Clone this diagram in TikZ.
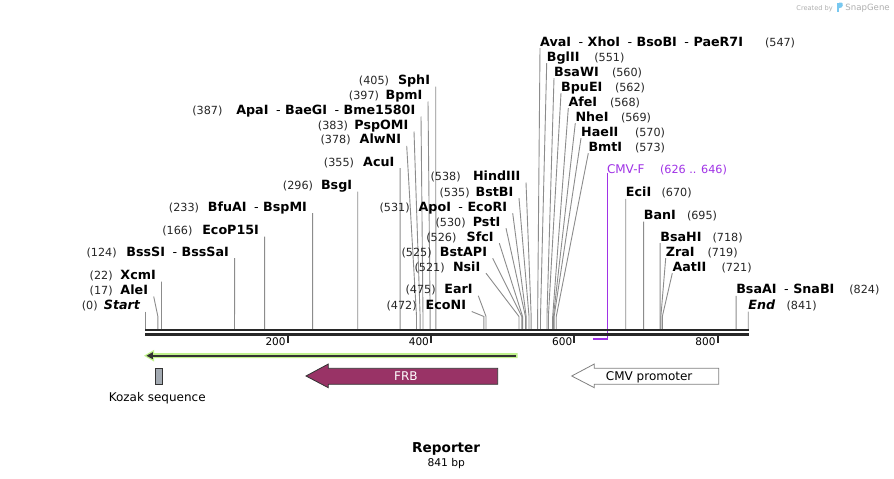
\documentclass[tikz,border=0pt]{standalone}
\usepackage{fontspec}
\setmainfont{DejaVu Sans}
\usetikzlibrary{arrows.meta}
\definecolor{connc}{RGB}{140,140,140}
\definecolor{rulerc}{RGB}{40,40,40}
\definecolor{frbc}{RGB}{153,51,102}
\definecolor{cmvf}{RGB}{160,50,230}
\definecolor{lgreen}{RGB}{192,242,140}
\definecolor{kozakc}{RGB}{163,170,178}
\definecolor{sgblue}{RGB}{120,200,240}
\definecolor{sggray}{RGB}{175,175,175}
\tikzset{
  enz/.style={inner sep=0pt, font=\fontsize{12.7}{14}\selectfont\bfseries},
  num/.style={inner sep=0pt, text=black!85, font=\fontsize{11.2}{13}\selectfont},
  connline/.style={draw=connc, line width=0.9pt},
  ticklab/.style={inner sep=0pt, font=\fontsize{10.5}{12}\selectfont},
  featlab/.style={inner sep=0pt, font=\fontsize{12}{14}\selectfont},
  rulerline/.style={draw=rulerc, line width=2.7pt},
  tickmark/.style={draw=rulerc, line width=1.8pt},
  featout/.style={draw=black!80, line width=0.8pt},
}
\newcommand\enzsep{\hspace{7.5pt}{\mdseries -}\hspace{4.5pt}}
% left label: id, name, number, number right x, start x, centre y, position
\newcommand\siteL[7]{%
  \node[enz, anchor=base east] (#1) at ({#5-5.5},{#6+4.6}) {#2};
  \node[num, anchor=base east] (#1n) at ({#4+0.9},{#6+4.5}) {(#3)};
  \coordinate (#1s) at ({145.7+0.7165*#7},316.5);
  \coordinate (#1r) at ({145.7+0.7165*#7},329);
  \draw[connline] ([xshift=5.5pt,yshift=-1.9pt]#1.base east) -- (#1s) -- (#1r);
}
% right label: id, name, number, number left x, start x, centre y, position
\newcommand\siteR[7]{%
  \node[enz, anchor=base west] (#1) at ({#5},{#6+4.6}) {#2};
  \node[num, anchor=base west] (#1n) at ({#4-0.9},{#6+4.5}) {(#3)};
  \coordinate (#1s) at ({145.7+0.7165*#7},316.5);
  \coordinate (#1r) at ({145.7+0.7165*#7},329);
  \draw[connline] ([yshift=-1.9pt]#1.base west) -- (#1s) -- (#1r);
}
\begin{document}
\begin{tikzpicture}[x=1pt,y=-1pt]
\useasboundingbox (0,0) rectangle (894,479);
\fill[white] (0,0) rectangle (894,479);

% SnapGene credit
\node[inner sep=0pt, anchor=base west, text=sggray, font=\fontsize{6.6}{8}\selectfont] (cred) at (796.2,10.3) {Created by};
\fill[sgblue] (836.8,2.5) rectangle (839.2,12.2);
\fill[sgblue] (839.2,2.5) -- (841.3,2.5) .. controls (843.6,2.5) and (843.6,8.2) .. (839.2,8.2) -- cycle;
\node[inner sep=0pt, anchor=base west, text=sggray, font=\fontsize{8.6}{10}\selectfont] (sg) at (845.2,10.3) {SnapGene};

% left labels
\siteL{start}{\itshape Start}{0}{97}{145.7}{305}{0}
\siteL{alei}{AleI}{17}{112}{153.7}{290}{17}
\siteL{xcmi}{XcmI}{22}{112}{161.46}{275}{22}
\siteL{bsssi}{BssSI\enzsep BssSaI}{124}{116}{234.55}{251.7}{124}
\siteL{ecop}{EcoP15I}{166}{191.7}{264.64}{230}{166}
\siteL{bfuai}{BfuAI\enzsep BspMI}{233}{198.3}{312.64}{206.7}{233}
\siteL{bsgi}{BsgI}{296}{312.3}{357.78}{185}{296}
\siteL{acui}{AcuI}{355}{353.3}{400.06}{161.7}{355}
\siteL{alwni}{AlwNI}{378}{350}{406.7}{139.3}{378}
\siteL{pspomi}{PspOMI}{383}{347.3}{414}{125}{383}
\siteL{apai}{ApaI\enzsep BaeGI\enzsep Bme1580I}{387}{221.7}{421}{110}{387}
\siteL{bpmi}{BpmI}{397}{378.3}{428}{95}{397}
\siteL{sphi}{SphI}{405}{388.3}{435.7}{80}{405}
% middle labels
\siteL{hindiii}{HindIII}{538}{460}{526}{176}{538}
\siteL{bstbi}{BstBI}{535}{469}{519}{191.7}{535}
\siteL{apoi}{ApoI\enzsep EcoRI}{531}{409}{512.7}{206.7}{531}
\siteL{psti}{PstI}{530}{465}{506}{221.7}{530}
\siteL{sfci}{SfcI}{526}{455.7}{499.3}{236.7}{526}
\siteL{bstapi}{BstAPI}{525}{431}{492.7}{251.7}{525}
\siteL{nsii}{NsiI}{521}{444}{486}{266.7}{521}
\siteL{eari}{EarI}{475}{435}{478.3}{289.3}{475}
\siteL{econi}{EcoNI}{472}{416}{471.7}{305}{472}
% right labels
\siteR{avai}{AvaI\enzsep XhoI\enzsep BsoBI\enzsep PaeR7I}{547}{765.7}{540}{41.7}{547}
\siteR{bglii}{BglII}{551}{595}{546.7}{56.7}{551}
\siteR{bsawi}{BsaWI}{560}{612.7}{554}{71.7}{560}
\siteR{bpuei}{BpuEI}{562}{615.7}{561}{86.7}{562}
\siteR{afei}{AfeI}{568}{610.7}{568.3}{101.7}{568}
\siteR{nhei}{NheI}{569}{621.7}{575.3}{116.7}{569}
\siteR{haeii}{HaeII}{570}{635.7}{581}{131.7}{570}
\siteR{bmti}{BmtI}{573}{635.7}{588.3}{146.7}{573}
\siteR{ecii}{EciI}{670}{662.3}{625.76}{192.3}{670}
\siteR{bani}{BanI}{695}{687.7}{643.67}{215}{695}
\siteR{bsahi}{BsaHI}{718}{713.3}{660.15}{236.7}{718}
\siteR{zrai}{ZraI}{719}{708.3}{665.7}{251.7}{719}
\siteR{aatii}{AatII}{721}{722.3}{672.3}{266.7}{721}
\siteR{bsaai}{BsaAI\enzsep SnaBI}{824}{850}{736.10}{289.3}{824}
\siteR{endl}{\itshape End}{841}{787.3}{748.28}{305}{841}

% CMV-F primer
\node[inner sep=0pt, anchor=base west, text=cmvf, font=\fontsize{12}{14}\selectfont] (cmvf) at (606.8,173.8) {CMV-F};
\node[inner sep=0pt, anchor=base west, text=cmvf, font=\fontsize{11.2}{13}\selectfont] (cmvfn) at (659.8,173.8) {(626 .. 646)};
\coordinate (cmvfc) at (607.3,339);
\coordinate (cmvfe) at (593.3,339);
\draw[cmvf, line width=1.4pt] (cmvf.south west -| cmvfc) ++(0,-1.5) -- (cmvfc) -- (cmvfe);

% ruler
\draw[rulerline] (145.2,330) -- (749,330);
\draw[rulerline] (145.2,334.3) -- (749,334.3);
\foreach \p in {200,400,600,800}{
  \draw[tickmark] ({145.7+0.7165*\p-1.3},334) -- ++(0,8.6);
  \node[ticklab, anchor=east] (t\p) at ({145.7+0.7165*\p-3.2},341.8) {\p};
}

% green feature (reverse direction)
\fill[lgreen] (144,355.7) -- (154,349.9) -- (154,353.2) -- (517.7,353.2) -- (517.7,358.2) -- (154,358.2) -- (154,361.5) -- cycle;
\draw[black!80, line width=1.6pt] (151,355.7) -- (515.7,355.7);
\fill[black!80] (146.5,355.7) -- (152.8,352.2) -- (152.8,359.2) -- cycle;

% Kozak sequence
\node[featout, fill=kozakc, minimum width=7.7pt, minimum height=16pt, inner sep=0pt] (kozakbox) at (158.85,376.3) {};
\node[featlab, anchor=base] (kozak) at (157.2,401) {Kozak sequence};

% FRB
\draw[featout, fill=frbc] (306,376) -- (328.3,364) -- (328.3,368.3) -- (497.7,368.3) -- (497.7,384.3) -- (328.3,384.3) -- (328.3,387.7) -- cycle;
\node[featlab, anchor=base, text=white] (frb) at (405.9,380) {FRB};

% CMV promoter
\draw[draw=black!50, line width=0.8pt, fill=white] (571.7,376) -- (594.3,364) -- (594.3,368.3) -- (718.7,368.3) -- (718.7,384.3) -- (594.3,384.3) -- (594.3,387.7) -- cycle;
\node[featlab, anchor=base] (cmvp) at (649.2,380) {CMV promoter};

% title
\node[inner sep=0pt, anchor=base, font=\fontsize{13.6}{16}\selectfont\bfseries] (title) at (446.2,452.7) {Reporter};
\node[inner sep=0pt, anchor=base, font=\fontsize{10.7}{12}\selectfont] (bp) at (446.3,466.5) {841 bp};
\end{tikzpicture}
\end{document}
